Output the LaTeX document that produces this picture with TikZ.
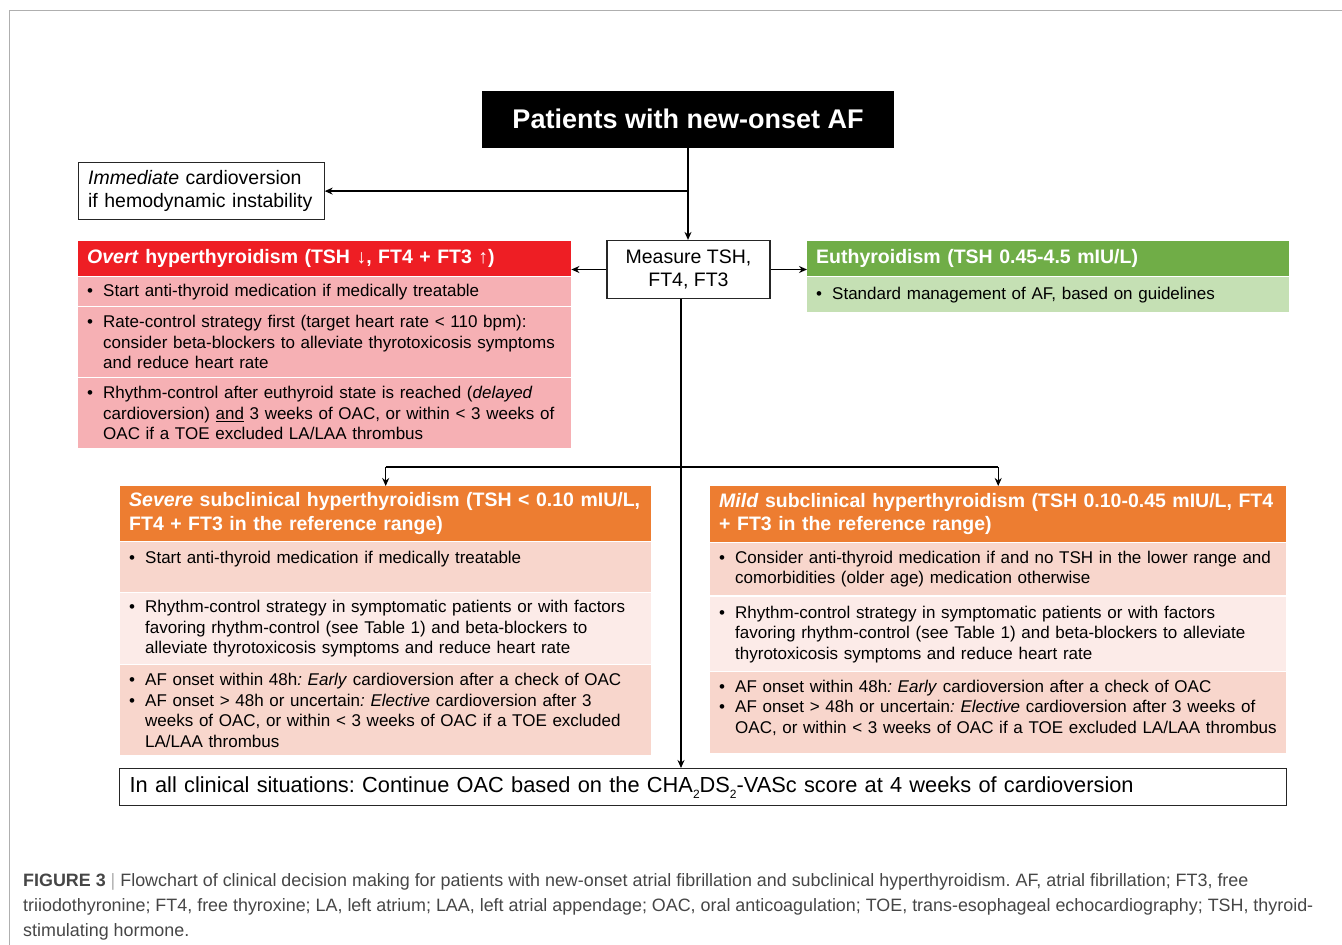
\documentclass[tikz,border=0pt]{standalone}
\usepackage{fontspec}
\setmainfont{Liberation Sans}
\usetikzlibrary{arrows.meta}

\definecolor{overtred}{RGB}{238,30,36}
\definecolor{overtpink}{RGB}{246,176,180}
\definecolor{eugreen}{RGB}{112,173,71}
\definecolor{eulight}{RGB}{197,224,180}
\definecolor{suborange}{RGB}{237,125,49}
\definecolor{subpeach}{RGB}{248,214,204}
\definecolor{sublight}{RGB}{252,235,232}
\definecolor{framegray}{RGB}{175,175,175}
\definecolor{captext}{RGB}{70,70,70}

\frenchspacing
\hyphenpenalty=10000
\newcommand{\bl}[1]{\hangindent=16pt\hangafter=1\noindent\makebox[16pt][l]{\textbullet}#1\par}
\newcommand{\lowsub}[1]{\raisebox{-6pt}{\fontsize{12}{12}\selectfont #1}}

\begin{document}
\begin{tikzpicture}[x=1pt,y=-1pt,>={Stealth[length=8pt,width=7pt]},
    hdr/.style={anchor=north west,text=white,inner xsep=9pt,inner ysep=0pt,align=left,font=\bfseries\fontsize{19.5}{23.5}\selectfont},
    row/.style={anchor=north west,inner xsep=9pt,inner ysep=0pt,align=left,font=\fontsize{17}{20.5}\selectfont},
    plain/.style={draw=black!85,line width=1.2pt,inner ysep=0pt,font=\fontsize{19.5}{23}\selectfont},
    link/.style={line width=1.3pt}]
            \useasboundingbox (0,0) rectangle (1342,945);
            \draw[framegray,line width=1.5pt] (9.5,945)--(9.5,10.5)--(1342,10.5);
            \node[fill=black,text=white,minimum width=412pt,minimum height=57pt,font=\bfseries\fontsize{27}{32}\selectfont] (pat) at (688,119) {Patients with new-onset AF};
            \node[plain,anchor=north west,text width=226pt,inner xsep=10pt,minimum height=57pt,align=left] (imm) at (77.5,162) {\textit{Immediate} cardioversion\\if hemodynamic instability};
            \node[plain,minimum width=163pt,minimum height=58pt,align=center] (meas) at (688.5,269.5) {Measure TSH,\\FT4, FT3};
            \node[hdr,fill=overtred,text width=475pt,minimum height=35pt] (overt) at (78,241) {\textit{Overt} hyperthyroidism (TSH ↓, FT4 + FT3 ↑)};
            \node[row,fill=overtpink,text width=475pt,minimum height=29pt] (overt1) at (78,277) {\bl{Start anti-thyroid medication if medically treatable}};
            \node[row,fill=overtpink,text width=475pt,minimum height=70pt] (overt2) at (78,307) {\bl{Rate-control strategy first (target heart rate < 110 bpm):\newline consider beta-blockers to alleviate thyrotoxicosis symptoms\newline and reduce heart rate}};
            \node[row,fill=overtpink,text width=475pt,minimum height=70pt] (overt3) at (78,378) {\bl{Rhythm-control after euthyroid state is reached (\textit{delayed}\newline cardioversion) \underline{and} 3 weeks of OAC, or within < 3 weeks of\newline OAC if a TOE excluded LA/LAA thrombus}};
            \node[hdr,fill=eugreen,text width=464pt,minimum height=35pt] (eu) at (807,241) {Euthyroidism (TSH 0.45-4.5 mIU/L)};
            \node[row,fill=eulight,text width=464pt,minimum height=35pt] (eu1) at (807,277) {\bl{Standard management of AF, based on guidelines}};
            \node[hdr,fill=suborange,text width=513pt,minimum height=55pt] (sev) at (120,486) {\textit{Severe} subclinical hyperthyroidism (TSH < 0.10 mIU/L,\\FT4 + FT3 in the reference range)};
            \node[row,fill=subpeach,text width=513pt,minimum height=50pt] (sev1) at (120,542) {\bl{Start anti-thyroid medication if medically treatable}\noindent\mbox{}\par};
            \node[row,fill=sublight,text width=513pt,minimum height=71pt] (sev2) at (120,593) {\bl{Rhythm-control strategy in symptomatic patients or with factors\newline favoring rhythm-control (see Table 1) and beta-blockers to\newline alleviate thyrotoxicosis symptoms and reduce heart rate}};
            \node[row,fill=subpeach,text width=513pt,minimum height=90pt] (sev3) at (120,665) {\bl{AF onset within 48h\textit{: Early} cardioversion after a check of OAC}\bl{AF onset > 48h or uncertain\textit{: Elective} cardioversion after 3\newline weeks of OAC, or within < 3 weeks of OAC if a TOE excluded\newline LA/LAA thrombus}};
            \node[hdr,fill=suborange,text width=558pt,minimum height=56pt] (mild) at (710,486) {\textit{Mild} subclinical hyperthyroidism (TSH 0.10-0.45 mIU/L, FT4\\+ FT3 in the reference range)};
            \node[row,fill=subpeach,text width=558pt,minimum height=52pt] (mild1) at (710,543) {\bl{Consider anti-thyroid medication if and no TSH in the lower range and\newline comorbidities (older age) medication otherwise}};
            \node[row,fill=sublight,text width=558pt,minimum height=74pt] (mild2) at (710,597) {\bl{Rhythm-control strategy in symptomatic patients or with factors\newline favoring rhythm-control (see Table 1) and beta-blockers to alleviate\newline thyrotoxicosis symptoms and reduce heart rate}};
            \node[row,fill=subpeach,text width=558pt,minimum height=81pt] (mild3) at (710,672) {\bl{AF onset within 48h\textit{: Early} cardioversion after a check of OAC}\bl{AF onset > 48h or uncertain\textit{: Elective} cardioversion after 3 weeks of\newline OAC, or within < 3 weeks of OAC if a TOE excluded LA/LAA thrombus\rule[-12pt]{0pt}{12pt}}};
            \node[plain,anchor=north west,text width=1147pt,inner xsep=10pt,minimum height=37pt,align=left,font=\fontsize{21.8}{26}\selectfont] (all) at (119,768) {In all clinical situations: Continue OAC based on the CHA\lowsub{2}DS\lowsub{2}-VASc score at 4 weeks of cardioversion};
            \node[anchor=north west,inner sep=0pt,align=left,text=captext,font=\fontsize{17.9}{25}\selectfont] (cap) at (23,873) {\textbf{FIGURE 3} {\color{framegray}|} Flowchart of clinical decision making for patients with new-onset atrial fibrillation and subclinical hyperthyroidism. AF, atrial fibrillation; FT3, free\\triiodothyronine; FT4, free thyroxine; LA, left atrium; LAA, left atrial appendage; OAC, oral anticoagulation; TOE, trans-esophageal echocardiography; TSH, thyroid-\\stimulating hormone.};
            \coordinate (split) at (681,467);
            \draw[link,->] (pat.south)--(pat.south |- meas.north);
            \draw[link,->] (pat.south |- imm.east)--(imm.east);
            \draw[link,->] (meas.west)--(meas.west -| overt.east);
            \draw[link,->] (meas.east)--(meas.east -| eu.west);
            \draw[link,->] (split |- meas.south)--(split |- all.north);
            \draw[link] (sev.north |- split)--(mild.north |- split);
            \draw[link,->] (sev.north |- split)--(sev.north);
            \draw[link,->] (mild.north |- split)--(mild.north);
        \end{tikzpicture}
\end{document}
